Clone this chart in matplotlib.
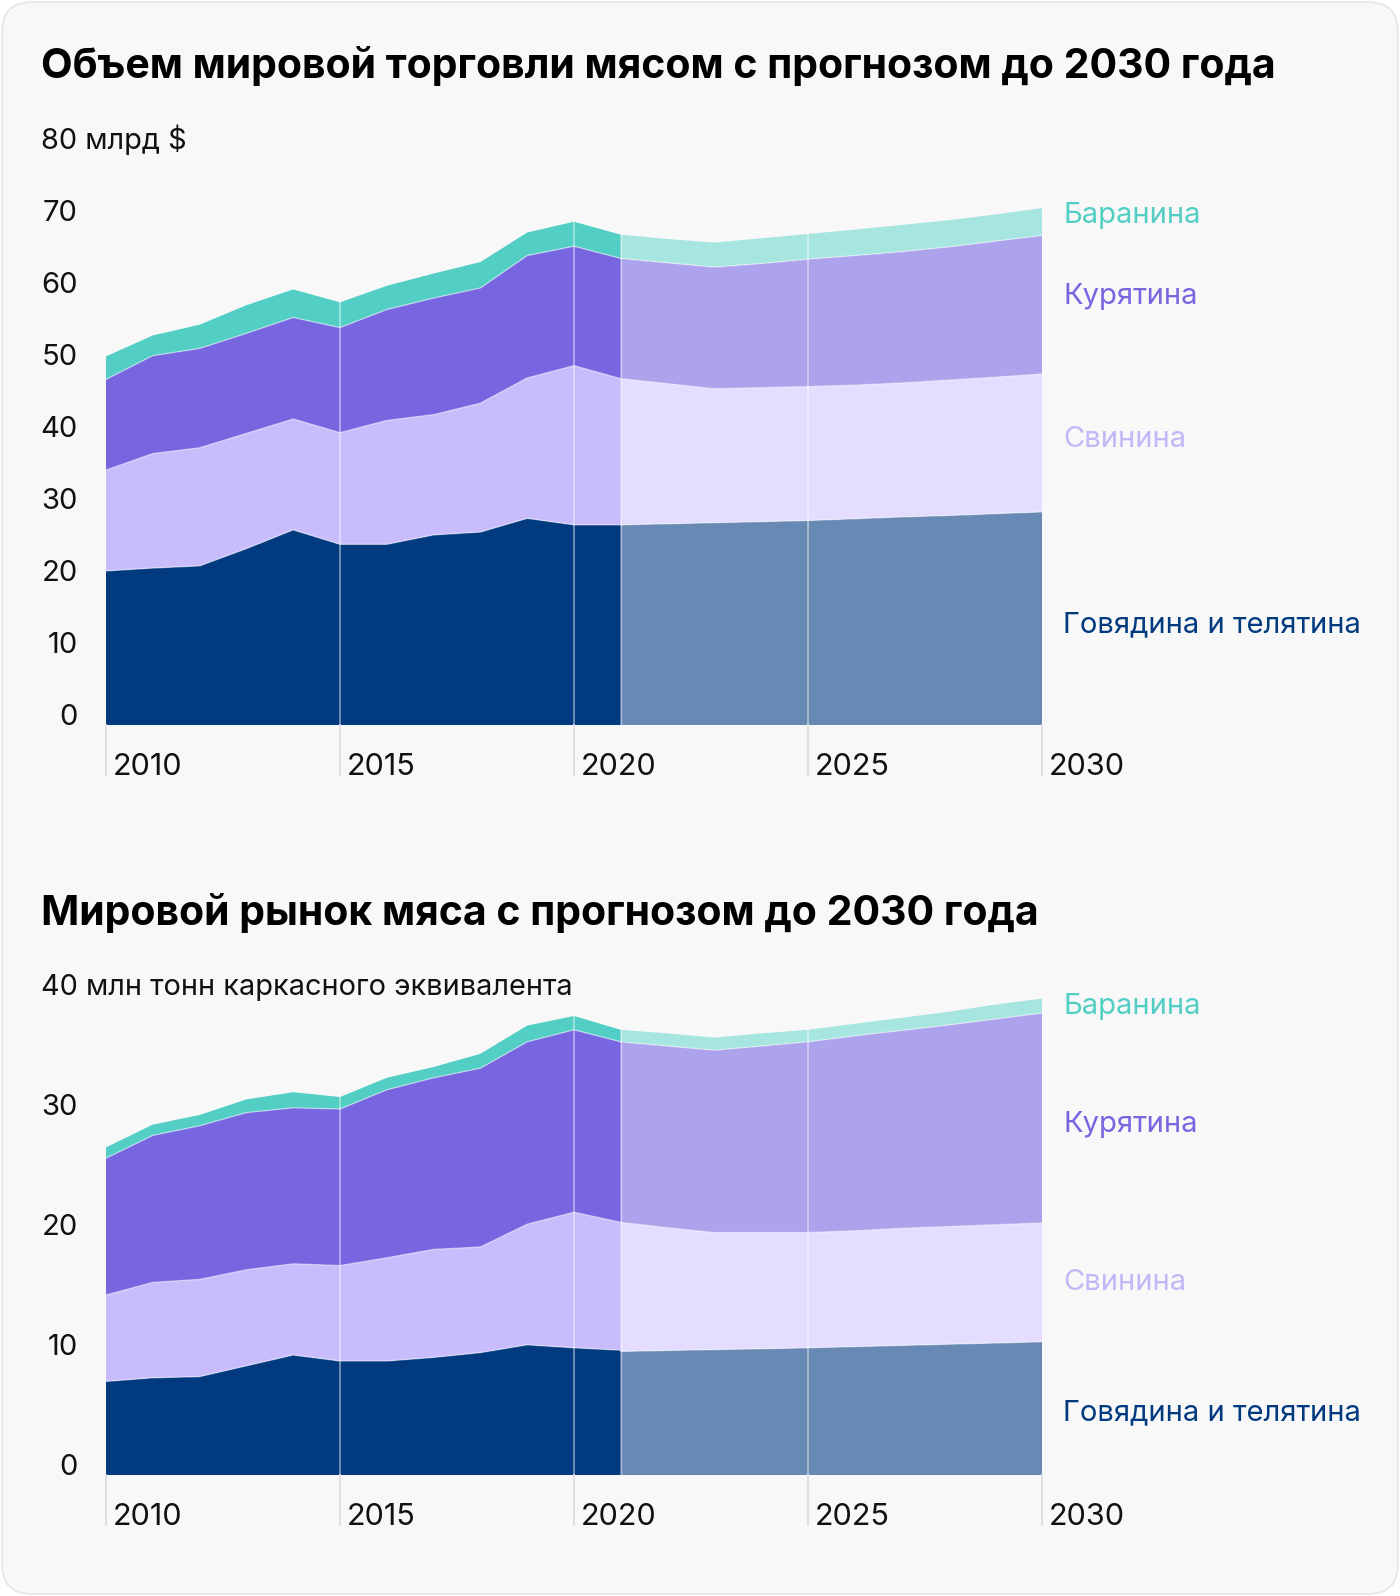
import numpy as np
import matplotlib.pyplot as plt
from matplotlib.patches import FancyBboxPatch
from matplotlib import transforms

plt.rcParams['font.family'] = ['Inter', 'DejaVu Sans']

# годы: факт и прогноз
years_hist = list(range(2010, 2022))
years_fc = list(range(2021, 2031))

# торговля, млрд $
trade_beef_h = [21.4, 21.8, 22.1, 24.5, 27.1, 25.1, 25.1, 26.4, 26.8, 28.7, 27.8, 27.8]
trade_pork_h = [14.0, 15.9, 16.4, 16.0, 15.4, 15.5, 17.2, 16.7, 17.9, 19.5, 22.1, 20.3]
trade_chicken_h = [12.6, 13.6, 13.8, 13.9, 14.1, 14.6, 15.4, 16.2, 16.0, 17.0, 16.6, 16.7]
trade_lamb_h = [3.2, 2.8, 3.3, 3.9, 3.9, 3.5, 3.3, 3.4, 3.6, 3.2, 3.4, 3.3]

trade_beef_f = [27.8, 27.95, 28.1, 28.25, 28.4, 28.65, 28.9, 29.1, 29.35, 29.6]
trade_pork_f = [20.3, 19.45, 18.6, 18.6, 18.6, 18.55, 18.6, 18.8, 18.95, 19.15]
trade_chicken_f = [16.7, 16.8, 16.9, 17.25, 17.7, 18.0, 18.25, 18.5, 18.9, 19.25]
trade_lamb_f = [3.3, 3.3, 3.4, 3.5, 3.5, 3.6, 3.7, 3.7, 3.7, 3.8]

# рынок, млн тонн
prod_beef_h = [7.8, 8.1, 8.2, 9.1, 10.0, 9.5, 9.5, 9.8, 10.2, 10.85, 10.6, 10.4]
prod_pork_h = [7.2, 7.95, 8.1, 8.0, 7.6, 7.95, 8.6, 9.0, 8.8, 10.05, 11.3, 10.65]
prod_chicken_h = [11.4, 12.25, 12.8, 13.1, 13.0, 13.05, 14.0, 14.3, 14.9, 15.2, 15.2, 15.05]
prod_lamb_h = [0.9, 0.9, 0.9, 1.1, 1.3, 1.0, 1.0, 0.9, 1.2, 1.35, 1.15, 1.0]

prod_beef_f = [10.3, 10.38, 10.45, 10.52, 10.6, 10.7, 10.8, 10.9, 11.0, 11.1]
prod_pork_f = [10.75, 10.22, 9.75, 9.68, 9.6, 9.65, 9.75, 9.8, 9.85, 9.9]
prod_chicken_f = [15.05, 15.15, 15.2, 15.55, 15.9, 16.25, 16.5, 16.8, 17.15, 17.5]
prod_lamb_f = [1.0, 1.05, 1.05, 1.05, 1.0, 1.0, 1.05, 1.1, 1.2, 1.2]

names = ['Говядина и телятина', 'Свинина', 'Курятина', 'Баранина']
dark = ['#023a80', '#c8bcfd', '#7866e0', '#52cec5']
light = ['#6889b4', '#e4ddff', '#ada2ec', '#a6e5e0']
label_colors = ['#023a80', '#c3b7f7', '#7866e0', '#52cec5']

W, H = 1400, 1596
fig = plt.figure(figsize=(W / 100, H / 100), dpi=100, facecolor='white')

bg = fig.add_axes([0, 0, 1, 1])
bg.set_xlim(0, W)
bg.set_ylim(H, 0)
bg.axis('off')
bg.add_patch(FancyBboxPatch((2, 2), W - 4, H - 4, boxstyle='round,pad=0,rounding_size=30',
                            facecolor='#f8f8f8', edgecolor='#e6e6e6', linewidth=1.2))


def draw_chart(top_px, zero_px, ymax, yticks, unit, title, title_y, hist, fc, label_y):
    ax = fig.add_axes([106 / W, (H - zero_px) / H, 936 / W, (zero_px - top_px) / H])
    ax.set_xlim(2010, 2030)
    ax.set_ylim(0, ymax)
    ax.patch.set_alpha(0)
    for s in ax.spines.values():
        s.set_visible(False)

    ax.stackplot(years_hist, *hist, colors=dark, linewidth=0)
    ax.stackplot(years_fc, *fc, colors=light, linewidth=0)

    cum_h = np.cumsum(hist, axis=0)
    cum_f = np.cumsum(fc, axis=0)
    for row in cum_h[:-1]:
        ax.plot(years_hist, row, color='white', alpha=0.45, lw=1)
    for row in cum_f[:-1]:
        ax.plot(years_fc, row, color='white', alpha=0.45, lw=1)
    ax.plot([2021, 2021], [0, cum_f[-1][0]], color='white', alpha=0.45, lw=1)

    # вертикальные линии сетки и подписи годов
    lab = transforms.offset_copy(ax.get_xaxis_transform(), fig=fig, x=7, y=-50, units='dots')
    for yr in [2010, 2015, 2020, 2025, 2030]:
        if yr <= 2021:
            top = np.interp(yr, years_hist, cum_h[-1])
        else:
            top = np.interp(yr, years_fc, cum_f[-1])
        if 2010 < yr < 2030:
            ax.plot([yr, yr], [0, top], color='white', alpha=0.45, lw=1.3)
        ax.plot([yr, yr], [0, -50 / (zero_px - top_px)], color='#dedede', lw=1.3,
                transform=ax.get_xaxis_transform(), clip_on=False)
        ax.text(yr, 0, str(yr), transform=lab, ha='left', va='baseline',
                fontsize=22, color='#111111')

    ax.set_xticks([])
    ax.set_yticks(yticks)
    ax.set_yticklabels([str(t) for t in yticks])
    ax.tick_params(axis='y', length=0, pad=20.5, labelsize=21, labelcolor='#111111')
    for t in ax.get_yticklabels():
        t.set_verticalalignment('baseline')

    # верхняя подпись с единицами
    ax.text(0, 1, unit, transform=transforms.offset_copy(ax.transAxes, fig=fig, x=-65, y=0, units='dots'),
            ha='left', va='baseline', fontsize=20.8, color='#111111')

    bg.text(41, title_y, title, fontsize=29.5, fontweight='bold', color='#000000',
            ha='left', va='baseline')
    for name, col, y in zip(names, label_colors, label_y):
        bg.text(1063, y, name, fontsize=21, color=col, ha='left', va='baseline')
    return ax


draw_chart(149, 725, 80, [0, 10, 20, 30, 40, 50, 60, 70], '80 млрд $',
           'Объем мировой торговли мясом с прогнозом до 2030 года', 78,
           [trade_beef_h, trade_pork_h, trade_chicken_h, trade_lamb_h],
           [trade_beef_f, trade_pork_f, trade_chicken_f, trade_lamb_f],
           [632, 447, 304, 223])

draw_chart(995, 1475, 40, [0, 10, 20, 30], '40 млн тонн каркасного эквивалента',
           'Мировой рынок мяса с прогнозом до 2030 года', 925,
           [prod_beef_h, prod_pork_h, prod_chicken_h, prod_lamb_h],
           [prod_beef_f, prod_pork_f, prod_chicken_f, prod_lamb_f],
           [1420, 1290, 1132, 1014])

fig.savefig('out.png', dpi=100, facecolor='white')
